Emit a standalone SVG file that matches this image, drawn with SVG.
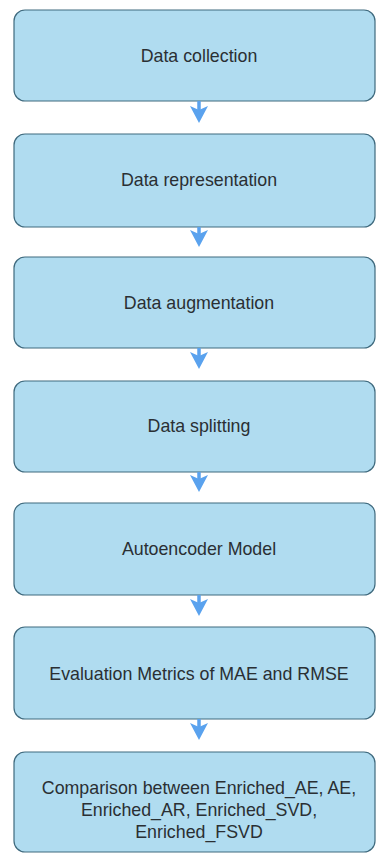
<svg xmlns="http://www.w3.org/2000/svg" width="377" height="854" viewBox="0 0 377 854">
<defs>
<style>
.box{fill:#b0dcf0;stroke:#3f6a7e;stroke-width:1.2}
.t{font-family:"Liberation Sans",Arial,sans-serif;font-size:17.8px;fill:#2a2f33;text-anchor:middle;dominant-baseline:central}
.c{stroke:#5aa2ee;stroke-width:3.5;fill:none}
.h{fill:#5aa2ee}
</style>
</defs>
<rect width="377" height="854" fill="#ffffff"/>
<g id="n1"><rect class="box" x="14" y="10" width="361" height="91" rx="11"/><text class="t" x="199" y="56">Data collection</text></g>
<g id="n2"><rect class="box" x="14" y="134" width="361" height="93" rx="11"/><text class="t" x="199" y="180">Data representation</text></g>
<g id="n3"><rect class="box" x="14" y="257" width="361" height="91" rx="11"/><text class="t" x="199" y="303">Data augmentation</text></g>
<g id="n4"><rect class="box" x="14" y="381" width="361" height="91" rx="11"/><text class="t" x="199" y="426">Data splitting</text></g>
<g id="n5"><rect class="box" x="14" y="503" width="361" height="92" rx="11"/><text class="t" x="199" y="549">Autoencoder Model</text></g>
<g id="n6"><rect class="box" x="14" y="627" width="361" height="92" rx="11"/><text class="t" x="199" y="674">Evaluation Metrics of MAE and RMSE</text></g>
<g id="n7"><rect class="box" x="14" y="752" width="361" height="100" rx="11"/><text class="t" x="199" y="788">Comparison between Enriched_AE, AE,</text><text class="t" x="199" y="810">Enriched_AR, Enriched_SVD,</text><text class="t" x="199" y="832">Enriched_FSVD</text></g>
<g id="connectors">
<path class="c" d="M199 101V112"/><path class="h" d="M190 106L199 110L208 106L199 123Z"/>
<path class="c" d="M199 227V236"/><path class="h" d="M190 230L199 234L208 230L199 247Z"/>
<path class="c" d="M199 348V358"/><path class="h" d="M190 352L199 356L208 352L199 369Z"/>
<path class="c" d="M199 472V481"/><path class="h" d="M190 475L199 479L208 475L199 492Z"/>
<path class="c" d="M199 595V605"/><path class="h" d="M190 599L199 603L208 599L199 616Z"/>
<path class="c" d="M199 719V729"/><path class="h" d="M190 723L199 727L208 723L199 740Z"/>
</g>
</svg>
